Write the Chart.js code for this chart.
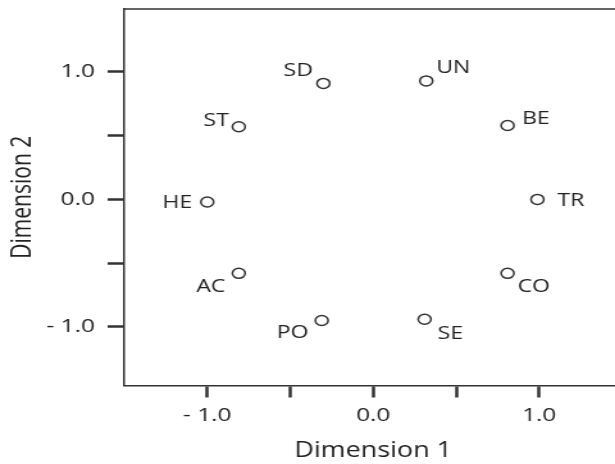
<!DOCTYPE html>
<html lang="en">
<head>
    <meta charset="UTF-8">
    <title>Dimension plot</title>
    <script src="https://cdn.jsdelivr.net/npm/chart.js"></script>
    <style>
        body {
            margin: 0;
            padding: 0;
            background: #fff;
            overflow: hidden;
        }

        /* the original picture is stretched horizontally and cut off at the right */
        #dimChart {
            display: block;
            transform: scaleX(1.28125);
            transform-origin: 0 0;
        }
    </style>
</head>
<body>
    <canvas id="dimChart" width="492" height="464"></canvas>

    <script>
        // Data
        const labels = ['SD', 'UN', 'ST', 'BE', 'HE', 'TR', 'AC', 'CO', 'PO', 'SE'];
        const dim1 = [-0.30, 0.32, -0.81, 0.81, -1.00, 0.99, -0.81, 0.81, -0.31, 0.31];
        const dim2 = [0.91, 0.93, 0.57, 0.58, -0.02, 0.00, -0.58, -0.58, -0.95, -0.94];
        const tickValues = [-1.0, -0.5, 0.0, 0.5, 1.0];

        // Label placement around each point (align, dx, dy of the cap centre)
        const labelPlace = [
            ['right', -8.2, -14], ['left', 7.8, -14.3], ['right', -7.8, -7], ['left', 11.3, -8],
            ['right', -11.7, 0], ['left', 15.6, 0.5], ['right', -10.5, 12], ['left', 7.8, 12],
            ['right', -10.4, 11.5], ['left', 10.2, 13.5]
        ];

        const ink = '#333';
        const fontFamily = "'Open Sans', 'Noto Sans', sans-serif";

        function tickText(v) {
            if (Math.abs(v) === 0.5) return '';
            if (v < 0) return '- ' + Math.abs(v).toFixed(1);
            return v.toFixed(1);
        }

        const pointLabels = {
            id: 'pointLabels',
            afterDatasetsDraw(chart) {
                const ctx = chart.ctx;
                const meta = chart.getDatasetMeta(0);
                ctx.save();
                ctx.font = '18px ' + fontFamily;
                ctx.fillStyle = '#222';
                ctx.textBaseline = 'alphabetic';
                meta.data.forEach((pt, i) => {
                    const p = labelPlace[i];
                    ctx.textAlign = p[0];
                    ctx.fillText(labels[i], pt.x + p[1], pt.y + p[2] + 6.4);
                });
                ctx.restore();
            }
        };

        // frame line along the top of the plot
        const topBorder = {
            id: 'topBorder',
            afterDraw(chart) {
                const a = chart.chartArea;
                const ctx = chart.ctx;
                ctx.save();
                ctx.strokeStyle = ink;
                ctx.lineWidth = 1.5;
                ctx.beginPath();
                ctx.moveTo(a.left, a.top);
                ctx.lineTo(a.right, a.top);
                ctx.stroke();
                ctx.restore();
            }
        };

        const ctx = document.getElementById('dimChart').getContext('2d');
        new Chart(ctx, {
            type: 'scatter',
            data: {
                datasets: [{
                    data: dim1.map((x, i) => ({ x: x, y: dim2[i] })),
                    pointRadius: 5,
                    pointHoverRadius: 5,
                    borderWidth: 1.5,
                    borderColor: ink,
                    backgroundColor: '#fff'
                }]
            },
            options: {
                responsive: false,
                animation: false,
                layout: { padding: { top: 9, left: 0, right: 0, bottom: 0 } },
                plugins: {
                    legend: { display: false },
                    tooltip: { enabled: false }
                },
                scales: {
                    x: {
                        type: 'linear',
                        min: -1.5,
                        max: 1.5,
                        afterBuildTicks: (s) => { s.ticks = tickValues.map(v => ({ value: v })); },
                        afterFit: (s) => {
                            s.height = 78.5;
                            s.paddingLeft = 0;
                            s.paddingRight = 0;
                        },
                        border: { color: ink, width: 1.5 },
                        grid: {
                            drawOnChartArea: false,
                            tickLength: 12,
                            tickWidth: 2.5,
                            tickColor: ink
                        },
                        ticks: {
                            callback: tickText,
                            padding: 7,
                            color: '#222',
                            maxRotation: 0,
                            font: { family: fontFamily, size: 19 }
                        },
                        title: {
                            display: true,
                            text: 'Dimension 1',
                            color: '#222',
                            padding: { top: 0, bottom: 0 },
                            font: { family: fontFamily, size: 21 }
                        }
                    },
                    y: {
                        type: 'linear',
                        min: -1.46,
                        max: 1.494,
                        afterBuildTicks: (s) => { s.ticks = tickValues.map(v => ({ value: v })); },
                        afterFit: (s) => {
                            s.width = 97;
                            s.paddingTop = 0;
                            s.paddingBottom = 0;
                        },
                        border: { color: ink, width: 1.5 },
                        grid: {
                            drawOnChartArea: false,
                            tickLength: 13,
                            tickWidth: 2.5,
                            tickColor: ink
                        },
                        ticks: {
                            callback: tickText,
                            padding: 10,
                            color: '#222',
                            font: { family: fontFamily, size: 19 }
                        },
                        title: {
                            display: true,
                            text: 'Dimension 2',
                            color: '#222',
                            padding: { top: 5.4, bottom: 0 },
                            font: { family: fontFamily, size: 21 }
                        }
                    }
                }
            },
            plugins: [pointLabels, topBorder]
        });
    </script>
</body>
</html>
